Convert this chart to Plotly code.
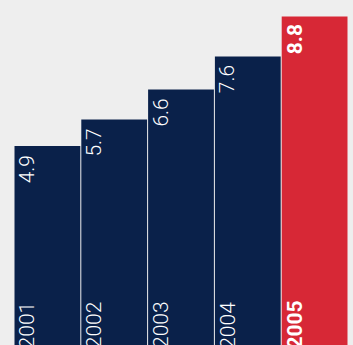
import plotly.graph_objects as go

years = ["2001", "2002", "2003", "2004", "2005"]
values = [4.9, 5.7, 6.6, 7.6, 8.8]
highlight = "2005"

NAVY = "#0a214a"
RED = "#d72836"
BG = "#eeeeee"
AXIS_FLOOR = -1.1
AXIS_TOP = 9.3

colors = [RED if y == highlight else NAVY for y in years]

fig = go.Figure(
    go.Bar(
        x=years,
        y=[v - AXIS_FLOOR for v in values],
        base=AXIS_FLOOR,
        marker=dict(color=colors, line=dict(width=0)),
        hoverinfo="skip",
    )
)

font_family = "Roboto, Helvetica Neue, Liberation Sans, Arial, sans-serif"
annotations = []
for i, (yr, v) in enumerate(zip(years, values)):
    bold = yr == highlight
    weight = 700 if bold else 300
    # value label, rotated, just inside the top of the bar
    annotations.append(dict(
        x=i, y=v, xref="x", yref="y",
        text=f"{v:.1f}", textangle=-90, showarrow=False,
        xanchor="center", yanchor="middle", xshift=-20, yshift=-23,
        font=dict(family=font_family, size=21, color="white", weight=weight),
    ))
    # year label, rotated, at the foot of the bar
    annotations.append(dict(
        x=i, y=AXIS_FLOOR, xref="x", yref="y",
        text=yr, textangle=-90, showarrow=False,
        xanchor="center", yanchor="middle", xshift=-20, yshift=20,
        font=dict(family=font_family, size=21, color="white", weight=weight),
    ))

axis_style = dict(showticklabels=False, showgrid=False, zeroline=False,
                  showline=False, ticks="")
fig.update_layout(
    width=353, height=345,
    margin=dict(l=14, r=5, t=0, b=0),
    paper_bgcolor=BG, plot_bgcolor=BG,
    bargap=0.015,
    showlegend=False,
    xaxis=dict(type="category", range=[-0.5, 4.5], **axis_style),
    yaxis=dict(range=[AXIS_FLOOR, AXIS_TOP], **axis_style),
    annotations=annotations,
)

fig.write_html("out.html")
